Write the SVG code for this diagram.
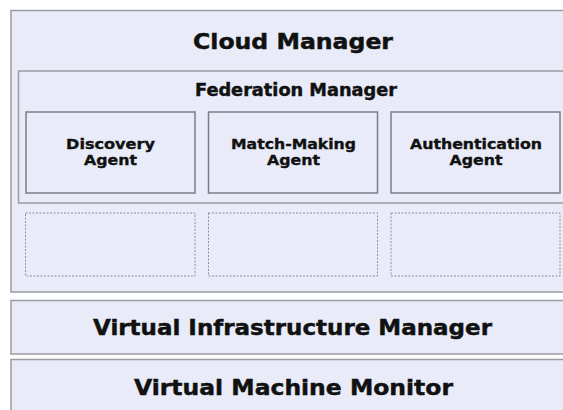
<svg xmlns="http://www.w3.org/2000/svg" width="563" height="410" viewBox="0 0 563 410">
  <style>
    .layer { fill: #e9ecf8; stroke: #9a9ca3; stroke-width: 1.5; }
    .agent { fill: #e9ecf8; stroke: #7c7e85; stroke-width: 1.5; }
    .slot { fill: #e9ecf8; stroke: #8e9097; stroke-width: 1; stroke-dasharray: 2 1.5; }
    text { font-family: "DejaVu Sans", "Liberation Sans", Arial, sans-serif; font-weight: bold; fill: #111; stroke: #111; stroke-width: 0.45; text-anchor: middle; }
    .t1 { font-size: 21px; }
    .t2 { font-size: 17px; }
    .t3 { font-size: 14px; stroke-width: 0.35; }
  </style>
  <rect width="563" height="410" fill="#ffffff"/>

  <g id="cloud-manager">
    <rect class="layer" x="11" y="10.5" width="560" height="281.5"/>
    <text class="t1" x="293" y="49" textLength="200" lengthAdjust="spacingAndGlyphs">Cloud Manager</text>
  </g>

  <g id="federation-manager">
    <rect class="layer" x="18.5" y="71" width="552" height="132"/>
    <text class="t2" x="296" y="96" textLength="202" lengthAdjust="spacingAndGlyphs">Federation Manager</text>
  </g>

  <g id="discovery-agent">
    <rect class="agent" x="26" y="112" width="169" height="81"/>
    <text class="t3" x="110.5" y="149" textLength="89" lengthAdjust="spacingAndGlyphs">Discovery</text>
    <text class="t3" x="110.5" y="165" textLength="53" lengthAdjust="spacingAndGlyphs">Agent</text>
  </g>

  <g id="match-making-agent">
    <rect class="agent" x="208.5" y="112" width="169" height="81"/>
    <text class="t3" x="293.5" y="149" textLength="125" lengthAdjust="spacingAndGlyphs">Match-Making</text>
    <text class="t3" x="293.5" y="165" textLength="53" lengthAdjust="spacingAndGlyphs">Agent</text>
  </g>

  <g id="authentication-agent">
    <rect class="agent" x="391" y="112" width="169" height="81"/>
    <text class="t3" x="476" y="149" textLength="132" lengthAdjust="spacingAndGlyphs">Authentication</text>
    <text class="t3" x="476" y="165" textLength="53" lengthAdjust="spacingAndGlyphs">Agent</text>
  </g>

  <g id="slot-1">
    <rect class="slot" x="25.5" y="213" width="169.5" height="63"/>
  </g>
  <g id="slot-2">
    <rect class="slot" x="208.5" y="213" width="169" height="63"/>
  </g>
  <g id="slot-3">
    <rect class="slot" x="391" y="213" width="169" height="63"/>
  </g>

  <g id="virtual-infrastructure-manager">
    <rect class="layer" x="11" y="300.5" width="560" height="53.5"/>
    <text class="t1" x="292.5" y="335" textLength="399" lengthAdjust="spacingAndGlyphs">Virtual Infrastructure Manager</text>
  </g>

  <g id="virtual-machine-monitor">
    <rect class="layer" x="11" y="359.5" width="560" height="60"/>
    <text class="t1" x="293.5" y="395" textLength="319" lengthAdjust="spacingAndGlyphs">Virtual Machine Monitor</text>
  </g>

  <g id="connectors"></g>
</svg>
